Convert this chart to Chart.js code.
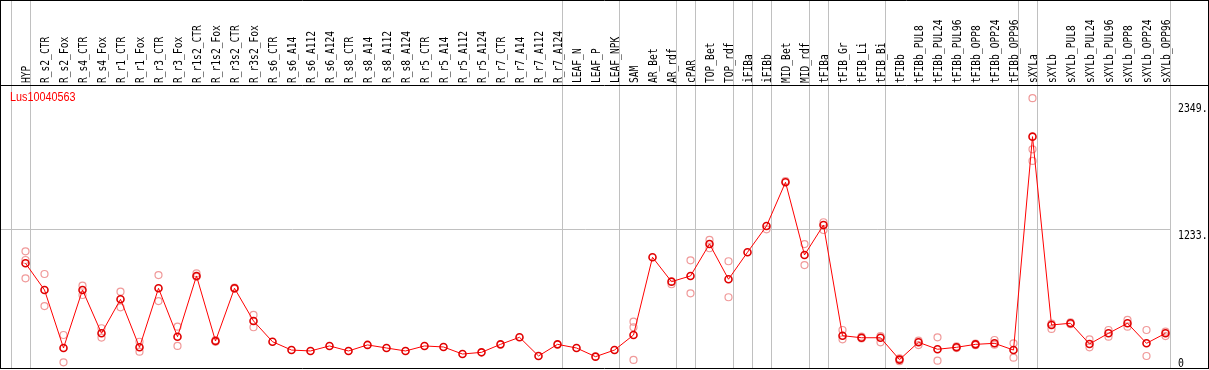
<!DOCTYPE html>
<html>
<head>
<meta charset="utf-8">
<script src="https://cdn.jsdelivr.net/npm/chart.js@4"></script>
<style>
  body { margin: 0; background: #fff; }
</style>
</head>
<body>
<canvas id="geneChart" width="1209" height="370"></canvas>
<script>
const geneName = "Lus10040563";

const samples = [
  "HYP", "R_s2_CTR", "R_s2_Fox", "R_s4_CTR", "R_s4_Fox", "R_r1_CTR", "R_r1_Fox",
  "R_r3_CTR", "R_r3_Fox", "R_r1s2_CTR", "R_r1s2_Fox", "R_r3s2_CTR", "R_r3s2_Fox",
  "R_s6_CTR", "R_s6_A14", "R_s6_A112", "R_s6_A124", "R_s8_CTR", "R_s8_A14", "R_s8_A112",
  "R_s8_A124", "R_r5_CTR", "R_r5_A14", "R_r5_A112", "R_r5_A124", "R_r7_CTR", "R_r7_A14",
  "R_r7_A112", "R_r7_A124", "LEAF_N", "LEAF_P", "LEAF_NPK", "SAM", "AR_Bet", "AR_rdf",
  "cPAR", "TOP_Bet", "TOP_rdf", "iFIBa", "iFIBb", "MID_Bet", "MID_rdf", "tFIBa",
  "tFIB_Gr", "tFIB_Li", "tFIB_Bi", "tFIBb", "tFIBb_PUL8", "tFIBb_PUL24", "tFIBb_PUL96",
  "tFIBb_OPP8", "tFIBb_OPP24", "tFIBb_OPP96", "sXYLa", "sXYLb", "sXYLb_PUL8",
  "sXYLb_PUL24", "sXYLb_PUL96", "sXYLb_OPP8", "sXYLb_OPP24", "sXYLb_OPP96"
];

// mean expression per sample
const meanExpr = [
  929, 695, 186, 695, 315, 613, 192, 710, 285, 818, 247, 710, 423,
  241, 168, 160, 204, 160, 213, 186, 160, 204, 195, 133, 148, 218, 280, 116, 218,
  186, 110, 168, 300, 982, 768, 818, 1098, 789, 1026, 1256, 1640, 1002, 1265,
  294, 276, 276, 84, 236, 175, 192, 218, 227, 168,
  2040, 388, 403, 221, 315, 403, 227, 315
];

// replicates (null where hidden under the mean marker)
const repHigh = [
  1034, 835, 300, 733, 359, 680, 241, 826, 373, 841, 255, 715, 476,
  null, null, null, null, null, null, null, null, null, null, null, null, null, null, null, null,
  null, null, null, 417, null, 745, 955, 1134, 947, null, 1227, 1650, 1098, 1289,
  344, 285, 290, 95, 250, 280, 200, 225, 256, 227,
  2377, 400, 410, 262, 344, 432, 344, 329
];
const repLow = [
  797, 554, 60, 651, 277, 543, 154, 598, 204, 810, 240, 705, 368,
  null, null, null, null, null, null, null, null, null, null, null, null, null, null, null, null,
  null, null, null, 81, null, null, 666, 1061, 631, null, null, null, 913, 1221,
  262, 270, 236, 70, 212, 75, 185, 210, 215, 101,
  1827, 353, 395, 192, 285, 373, 116, 291
];
const repExtra = [
  958, null, null, null, null, null, null, null, null, null, null, null, null,
  null, null, null, null, null, null, null, null, null, null, null, null, null, null, null, null,
  null, null, null, 368, null, null, null, null, null, null, null, null, null, null,
  null, null, null, null, null, null, null, null, null, null,
  1929, null, null, null, null, null, null, null
];

const yTicks = [0, 1233, 2349];
const yMax = 2493;
// gray separators drawn just after these sample indexes
const groupEnds = [-1, 0, 28, 31, 34, 35, 37, 38, 39, 41, 42, 45, 52, 53, 60];

const monoFont = "12px 'DejaVu Sans Mono'";

const frame = {
  id: "frame",
  beforeDatasetsDraw(chart) {
    const ctx = chart.ctx;
    const xs = chart.scales.x, ys = chart.scales.y;
    const W = chart.width;
    const step = xs.getPixelForValue(1) - xs.getPixelForValue(0);
    const px = i => xs.getPixelForValue(0) + step * i;
    const bottom = Math.round(ys.getPixelForValue(0)) - 0.5;
    const headerY = Math.round(chart.chartArea.top) + 0.5;
    let lastSep = 0;

    ctx.save();
    ctx.lineWidth = 1;
    ctx.strokeStyle = "#c0c0c0";
    groupEnds.forEach(i => {
      const x = Math.round(px(i) + step * 0.24) + 0.5;
      lastSep = x;
      ctx.beginPath();
      ctx.moveTo(x, 0);
      ctx.lineTo(x, bottom);
      ctx.stroke();
    });
    const gy = Math.round(ys.getPixelForValue(yTicks[1])) + 0.5;
    ctx.beginPath();
    ctx.moveTo(0, gy);
    ctx.lineTo(lastSep, gy);
    ctx.stroke();

    // black frame
    ctx.strokeStyle = "#000";
    ctx.beginPath();
    ctx.moveTo(0, 0.5); ctx.lineTo(W, 0.5);
    ctx.moveTo(0.5, 0); ctx.lineTo(0.5, bottom);
    ctx.moveTo(0, headerY); ctx.lineTo(W, headerY);
    ctx.moveTo(0, bottom); ctx.lineTo(W, bottom);
    ctx.moveTo(W - 0.5, 0); ctx.lineTo(W - 0.5, bottom);
    ctx.stroke();

    // sample labels, rotated
    ctx.fillStyle = "#000";
    ctx.font = monoFont;
    ctx.textAlign = "left";
    ctx.textBaseline = "alphabetic";
    samples.forEach((s, i) => {
      ctx.save();
      ctx.translate(px(i) + 4.5, headerY - 2.5);
      ctx.rotate(-Math.PI / 2);
      ctx.scale(0.8, 1);
      ctx.fillText(s, 0, 0);
      ctx.restore();
    });

    // value labels on the right
    ctx.textBaseline = "top";
    yTicks.forEach(v => {
      const top = Math.min(ys.getPixelForValue(v) + 1.5, bottom - 11);
      ctx.save();
      ctx.translate(1178, top);
      ctx.scale(0.82, 1);
      ctx.fillText(v === 0 ? "0" : v + ".", 0, 0);
      ctx.restore();
    });

    // gene name
    ctx.fillStyle = "#ff0000";
    ctx.font = "12px 'Liberation Sans'";
    ctx.textBaseline = "alphabetic";
    ctx.save();
    ctx.translate(10, 101);
    ctx.scale(0.9, 1);
    ctx.fillText(geneName, 0, 0);
    ctx.restore();
    ctx.restore();
  }
};

const repStyle = {
  showLine: false,
  pointRadius: 3.5,
  pointBorderWidth: 1.2,
  pointBorderColor: "#f09a9a",
  pointBackgroundColor: "rgba(0,0,0,0)",
  order: 1
};

new Chart(document.querySelector("#geneChart"), {
  type: "line",
  data: {
    labels: samples,
    datasets: [
      {
        data: meanExpr,
        borderColor: "#ff0000",
        borderWidth: 1,
        pointRadius: 3.5,
        pointBorderWidth: 1.6,
        pointBorderColor: "#e00000",
        pointBackgroundColor: "rgba(0,0,0,0)",
        tension: 0,
        order: 0
      },
      { data: repHigh, ...repStyle },
      { data: repLow, ...repStyle },
      { data: repExtra, ...repStyle }
    ]
  },
  options: {
    responsive: false,
    devicePixelRatio: 1,
    animation: false,
    clip: false,
    layout: {
      autoPadding: false,
      padding: { left: 25.5, right: 43.5, top: 85, bottom: 0.8 }
    },
    scales: {
      x: { display: false, offset: false },
      y: { display: false, min: 0, max: yMax }
    },
    plugins: {
      legend: { display: false },
      tooltip: { enabled: false }
    }
  },
  plugins: [frame]
});
</script>
</body>
</html>
